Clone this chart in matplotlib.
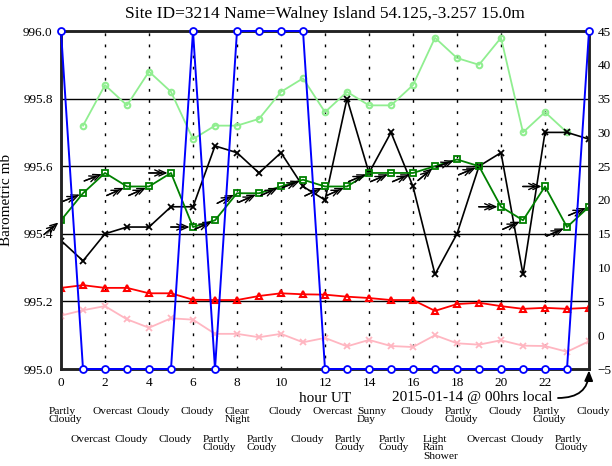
import math
import matplotlib
matplotlib.use("Agg")
import matplotlib.pyplot as plt
import matplotlib.transforms as mtransforms

plt.rcParams['font.family'] = ['Liberation Serif', 'DejaVu Serif']

# hours UT
hours = list(range(25))

# barometric flag series (left axis, mb)
pressure = [996.0, 995.0, 995.0, 995.0, 995.0, 995.0, 996.0, 995.0, 996.0, 996.0,
            996.0, 996.0, 995.0, 995.0, 995.0, 995.0, 995.0, 995.0, 995.0, 995.0,
            995.0, 995.0, 995.0, 995.0, 996.0]

# right axis series
humidity = [None, 31, 37, 34, 39, 36, 29, 31, 31, 32, 36, 38, 33, 36, 34, 34,
            37, 44, 41, 40, 44, 30, 33, 30, None]
gust = [14, 11, 15, 16, 16, 19, 19, 28, 27, 24, 27, 22, 20, 35, 24, 30,
        22, 9, 15, 25, 27, 9, 30, 30, 29]
wind = [17, 21, 24, 22, 22, 24, 16, 17, 21, 21, 22, 23, 22, 22, 24, 24,
        24, 25, 26, 25, 19, 17, 22, 16, 19]
wind_dir = [40, 22, 21, 24, 24, 0, 0, 24, 27, 24, 24, 21, 25, 24, 23, 23,
            23, 40, 20, 23, 0, 24, 0, 24, 23]
temp = [7.0, 7.4, 7.0, 7.0, 6.2, 6.2, 5.25, 5.2, 5.2, 5.8, 6.2, 6.05, 6.0, 5.7,
        5.5, 5.2, 5.2, 3.6, 4.6, 4.8, 4.3, 3.9, 4.05, 3.9, 4.05]
dewpoint = [2.9, 3.7, 4.3, 2.35, 1.1, 2.5, 2.3, 0.2, 0.2, -0.3, 0.2, -1.05, -0.4,
            -1.65, -0.7, -1.6, -1.75, 0.0, -1.2, -1.4, -0.75, -1.55, -1.6, -2.45, -0.9]

weather = ["Partly\nCloudy", "Overcast", "Overcast", "Cloudy", "Cloudy", "Cloudy",
           "Cloudy", "Partly\nCloudy", "Clear\nNight", "Partly\nCoudy", "Cloudy",
           "Cloudy", "Overcast", "Partly\nCoudy", "Sunny\nDay", "Partly\nCoudy",
           "Cloudy", "Light\nRain\nShower", "Partly\nCloudy", "Overcast", "Cloudy",
           "Cloudy", "Partly\nCloudy", "Partly\nCloudy", "Cloudy"]

title = "Site ID=3214 Name=Walney Island 54.125,-3.257 15.0m"

fig = plt.figure(figsize=(6.12, 4.66), dpi=100)
ax2 = fig.add_axes([61/612, 1-369/466, 528/612, 338/466])
ax = ax2.twinx()
ax.yaxis.tick_left()
ax.yaxis.set_label_position("left")
ax2.yaxis.tick_right()

ax2.set_xlim(0, 24)
ax2.set_ylim(-5, 45)
ax.set_ylim(995.0, 996.0)

# grid
for v in [5, 15, 25, 35]:
    ax2.axhline(v, color='black', lw=1, zorder=1)
for h in range(2, 24, 2):
    ax2.axvline(h, color='black', lw=1, ls=(0, (2, 6)), zorder=1)

# right-axis series
hx = [h for h, v in zip(hours, humidity) if v is not None]
hv = [v for v in humidity if v is not None]
ax2.plot(hx, hv, color='#90ee90', lw=1.3, marker='o', ms=4, mfc='none', mew=1.5, zorder=3)
ax2.plot(hours, dewpoint, color='#ffb6c1', lw=1.3, marker='x', ms=5, mew=1.3, zorder=3)
ax2.plot(hours, temp, color='red', lw=1.3, marker='^', ms=5, mfc='none', mew=1.5, zorder=3)
ax2.plot(hours, gust, color='black', lw=1.2, marker='x', ms=5, mew=1.3, zorder=3)
ax2.plot(hours, wind, color='green', lw=1.3, marker='s', ms=5, mfc='none', mew=1.3, zorder=4)

# wind direction arrows (double chevron)
for h, v, d in zip(hours, wind, wind_dir):
    L = 16
    dx = L * math.cos(math.radians(d))
    dy = L * math.sin(math.radians(d))
    for sb in (2.5, 5.5):
        ax2.annotate("", xy=(h, v), xytext=(-dx, -dy), textcoords='offset points',
                     arrowprops=dict(arrowstyle='->,head_length=0.5,head_width=0.22',
                                     color='black', lw=1, shrinkA=0, shrinkB=sb),
                     zorder=5)

# left-axis series
ax.set_zorder(ax2.get_zorder() + 1)
ax.patch.set_visible(False)
ax.plot(hours, pressure, color='blue', lw=1.4, marker='o', ms=5, mfc='white',
        mec='blue', mew=1.3, clip_on=False, zorder=6)

ax.set_yticks([995.0, 995.2, 995.4, 995.6, 995.8, 996.0])
ax.set_yticklabels(["995.0", "995.2", "995.4", "995.6", "995.8", "996.0"])
ax2.set_yticks(range(-5, 50, 5))
ax2.set_xticks(range(0, 24, 2))
for a in (ax, ax2):
    a.tick_params(length=0, labelsize=9.5, pad=6)
    for s in a.spines.values():
        s.set_linewidth(1.8)
        s.set_color('#222222')

ax.set_ylabel("Barometric mb", fontsize=11, labelpad=7)
fig.text(0.5 * (61 + 589) / 612, 1 - 14/466, title, ha='center', va='center', fontsize=12.5)

ax2.text(325/612, 1 - 398/466, "hour UT", transform=fig.transFigure,
         ha='center', va='center', fontsize=11)
ax2.text(552/612, 1 - 398/466, "2015-01-14 @ 00hrs local", transform=fig.transFigure,
         ha='right', va='center', fontsize=11)
ax2.annotate("", xy=(24, -5), xytext=(558/612, 1 - 398/466),
             textcoords=fig.transFigure,
             arrowprops=dict(arrowstyle='-|>,head_length=0.6,head_width=0.25',
                             color='black', lw=1.3, shrinkA=0, shrinkB=1,
                             connectionstyle='angle3,angleA=0,angleB=90'),
             annotation_clip=False)

# weather labels
trans = mtransforms.blended_transform_factory(ax2.transData, fig.transFigure)
for h, w in zip(hours, weather):
    ytop = 409 if h % 2 == 0 else 437
    ax2.text(h - 0.55, 1 - (ytop - 2)/466, w, transform=trans, ha='left', va='top',
             fontsize=8.2, linespacing=0.9, clip_on=False)

fig.savefig("out.png", dpi=100)
